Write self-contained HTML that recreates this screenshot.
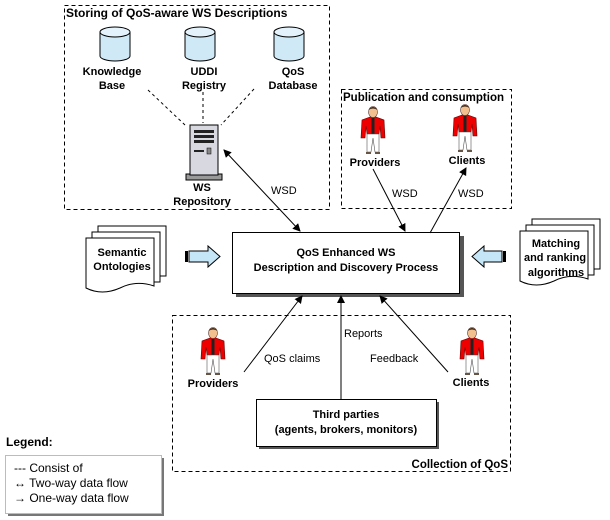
<!DOCTYPE html>
<html><head><meta charset="utf-8"><style>
body{margin:0;background:#fff;}
svg{display:block;font-family:"Liberation Sans",Arial,sans-serif;}
.b{font-weight:bold;font-size:11px;}
.n{font-size:11px;}
</style></head><body>
<svg width="610" height="520" viewBox="0 0 610 520" xmlns="http://www.w3.org/2000/svg">
<defs>
<marker id="ar" markerWidth="8" markerHeight="8" refX="7" refY="4" orient="auto" markerUnits="userSpaceOnUse">
<path d="M0,0 L8,4 L0,8 z" fill="#000"/></marker>
<marker id="as" markerWidth="8" markerHeight="8" refX="1" refY="4" orient="auto" markerUnits="userSpaceOnUse">
<path d="M8,0 L0,4 L8,8 z" fill="#000"/></marker>
<g id="cyl">
<path d="M-15,-12 L-15,12 A15,5 0 0 0 15,12 L15,-12" fill="#cfe9f7" stroke="#000"/>
<ellipse cx="0" cy="-12" rx="15" ry="5" fill="#e4f3fb" stroke="#000"/>
</g>
<g id="man">
<path d="M-3,5 L-11,8 L-12,26 L-8,26 L-7,14 L-6,22 L6,22 L7,14 L8,26 L12,26 L11,8 L3,5 z" fill="#e00" stroke="#600" stroke-width="0.6"/>
<rect x="-1.5" y="6" width="3" height="16" fill="#222"/>
<path d="M-6,22 L-6,40 L-2,40 L0,26 L2,40 L6,40 L6,22 z" fill="#fff" stroke="#555" stroke-width="0.6"/>
<rect x="-7" y="40" width="5" height="2" fill="#654"/><rect x="2" y="40" width="5" height="2" fill="#654"/>
<ellipse cx="0" cy="0" rx="4.5" ry="5.5" fill="#f2c08f" stroke="#533" stroke-width="0.6"/>
<path d="M-4.5,-2 Q0,-8 4.5,-2 Q0,-5 -4.5,-2z" fill="#321"/>
</g>
<g id="doc">
<path d="M12,0 H80 V50 H12 z" fill="#fff" stroke="#000"/>
<path d="M6,6 H74 V56 H6 z" fill="#fff" stroke="#000"/>
<path d="M0,12 H68 V60 Q50,54 34,62 Q16,70 0,62 z" fill="#fff" stroke="#000"/>
</g>
</defs>

<rect x="64.5" y="5.5" width="265" height="204" fill="none" stroke="#000" stroke-dasharray="4,3"/>
<rect x="341.5" y="89.5" width="170" height="119" fill="none" stroke="#000" stroke-dasharray="4,3"/>
<rect x="172.5" y="315.5" width="338" height="156" fill="none" stroke="#000" stroke-dasharray="4,3"/>
<text x="66" y="17" class="b" font-size="12" style="font-size:12px">Storing of QoS-aware WS Descriptions</text>
<text x="343" y="101" class="b" style="font-size:11.5px">Publication and consumption</text>
<text x="508" y="468" class="b" text-anchor="end" style="font-size:11.5px">Collection of QoS</text>

<use href="#cyl" x="115" y="44"/>
<use href="#cyl" x="200" y="44"/>
<use href="#cyl" x="289" y="44"/>
<text x="112" y="75" class="b" text-anchor="middle">Knowledge</text><text x="112" y="89" class="b" text-anchor="middle">Base</text>
<text x="204" y="75" class="b" text-anchor="middle">UDDI</text><text x="204" y="89" class="b" text-anchor="middle">Registry</text>
<text x="293" y="75" class="b" text-anchor="middle">QoS</text><text x="293" y="89" class="b" text-anchor="middle">Database</text>
<g stroke="#000" stroke-dasharray="3,3">
<line x1="148" y1="90" x2="185" y2="125"/><line x1="203" y1="92" x2="203" y2="123"/><line x1="254" y1="89" x2="221" y2="125"/>
</g>
<rect x="186" y="174" width="36" height="6" fill="#999" stroke="#000"/>
<rect x="190" y="125" width="28" height="50" fill="#d8d8e0" stroke="#000"/>
<rect x="194" y="130" width="20" height="3" fill="#222"/><rect x="194" y="135" width="20" height="3" fill="#222"/><rect x="194" y="140" width="20" height="3" fill="#222"/>
<rect x="194" y="150" width="10" height="2" fill="#222"/><rect x="207" y="148" width="4" height="6" fill="#888" stroke="#000" stroke-width="0.5"/>
<text x="202" y="191" class="b" text-anchor="middle">WS</text>
<text x="202" y="205" class="b" text-anchor="middle">Repository</text>

<use href="#man" x="373" y="112"/>
<use href="#man" x="465" y="110"/>
<use href="#man" x="213" y="333"/>
<use href="#man" x="472" y="333"/>
<text x="375" y="166" class="b" text-anchor="middle">Providers</text>
<text x="467" y="164" class="b" text-anchor="middle">Clients</text>
<text x="213" y="387" class="b" text-anchor="middle">Providers</text>
<text x="471" y="386" class="b" text-anchor="middle">Clients</text>

<rect x="236" y="236" width="228" height="61" fill="#555"/>
<rect x="232.5" y="232.5" width="227" height="61" fill="#fff" stroke="#000"/>
<text x="346" y="256" class="b" text-anchor="middle">QoS Enhanced WS</text>
<text x="346" y="271" class="b" text-anchor="middle">Description and Discovery Process</text>

<rect x="259" y="402" width="180" height="47" fill="#555"/>
<rect x="256.5" y="399.5" width="180" height="47" fill="#fff" stroke="#000"/>
<text x="346" y="418" class="b" text-anchor="middle">Third parties</text>
<text x="346" y="433" class="b" text-anchor="middle">(agents, brokers, monitors)</text>

<g stroke="#000" fill="none">
<line x1="224" y1="150" x2="300" y2="231" marker-start="url(#as)" marker-end="url(#ar)"/>
<line x1="373" y1="169" x2="405" y2="231" marker-end="url(#ar)"/>
<line x1="430" y1="233" x2="466" y2="168" marker-end="url(#ar)"/>
<line x1="244" y1="372" x2="302" y2="296" marker-end="url(#ar)"/>
<line x1="341" y1="399" x2="341" y2="296" marker-end="url(#ar)"/>
<line x1="448" y1="372" x2="380" y2="296" marker-end="url(#ar)"/>
</g>
<g class="n">
<text x="271" y="194" class="n">WSD</text>
<text x="392" y="197" class="n">WSD</text>
<text x="458" y="197" class="n">WSD</text>
<text x="264" y="362" class="n">QoS claims</text>
<text x="344" y="337" class="n">Reports</text>
<text x="370" y="362" class="n">Feedback</text>
</g>

<use href="#doc" x="86" y="226"/>
<text x="122" y="256" class="b" text-anchor="middle">Semantic</text>
<text x="122" y="270" class="b" text-anchor="middle">Ontologies</text>
<use href="#doc" x="520" y="219"/>
<text x="556" y="247" class="b" text-anchor="middle">Matching</text>
<text x="555" y="261" class="b" text-anchor="middle" textLength="62" lengthAdjust="spacingAndGlyphs">and ranking</text>
<text x="556" y="276" class="b" text-anchor="middle">algorithms</text>

<rect x="185" y="251" width="3" height="11" fill="#000"/>
<path d="M189,251 H208 V246 L220,256.5 L208,267 V262 H189 z" fill="#c5e6f7" stroke="#000"/>
<rect x="503" y="251" width="3" height="11" fill="#000"/>
<path d="M502,251 H484 V246 L472,256.5 L484,267 V262 H502 z" fill="#c5e6f7" stroke="#000"/>

<text x="6" y="446" font-weight="bold" font-size="12">Legend:</text>
<rect x="8" y="458" width="156" height="58" fill="#777"/>
<rect x="5.5" y="455.5" width="156" height="58" fill="#fff" stroke="#9cc3e8"/>
<text x="14" y="472" font-size="12">--- Consist of</text>
<text x="14" y="487" font-size="12">↔ Two-way data flow</text>
<text x="14" y="502" font-size="12">→ One-way data flow</text>
</svg>
</body></html>
